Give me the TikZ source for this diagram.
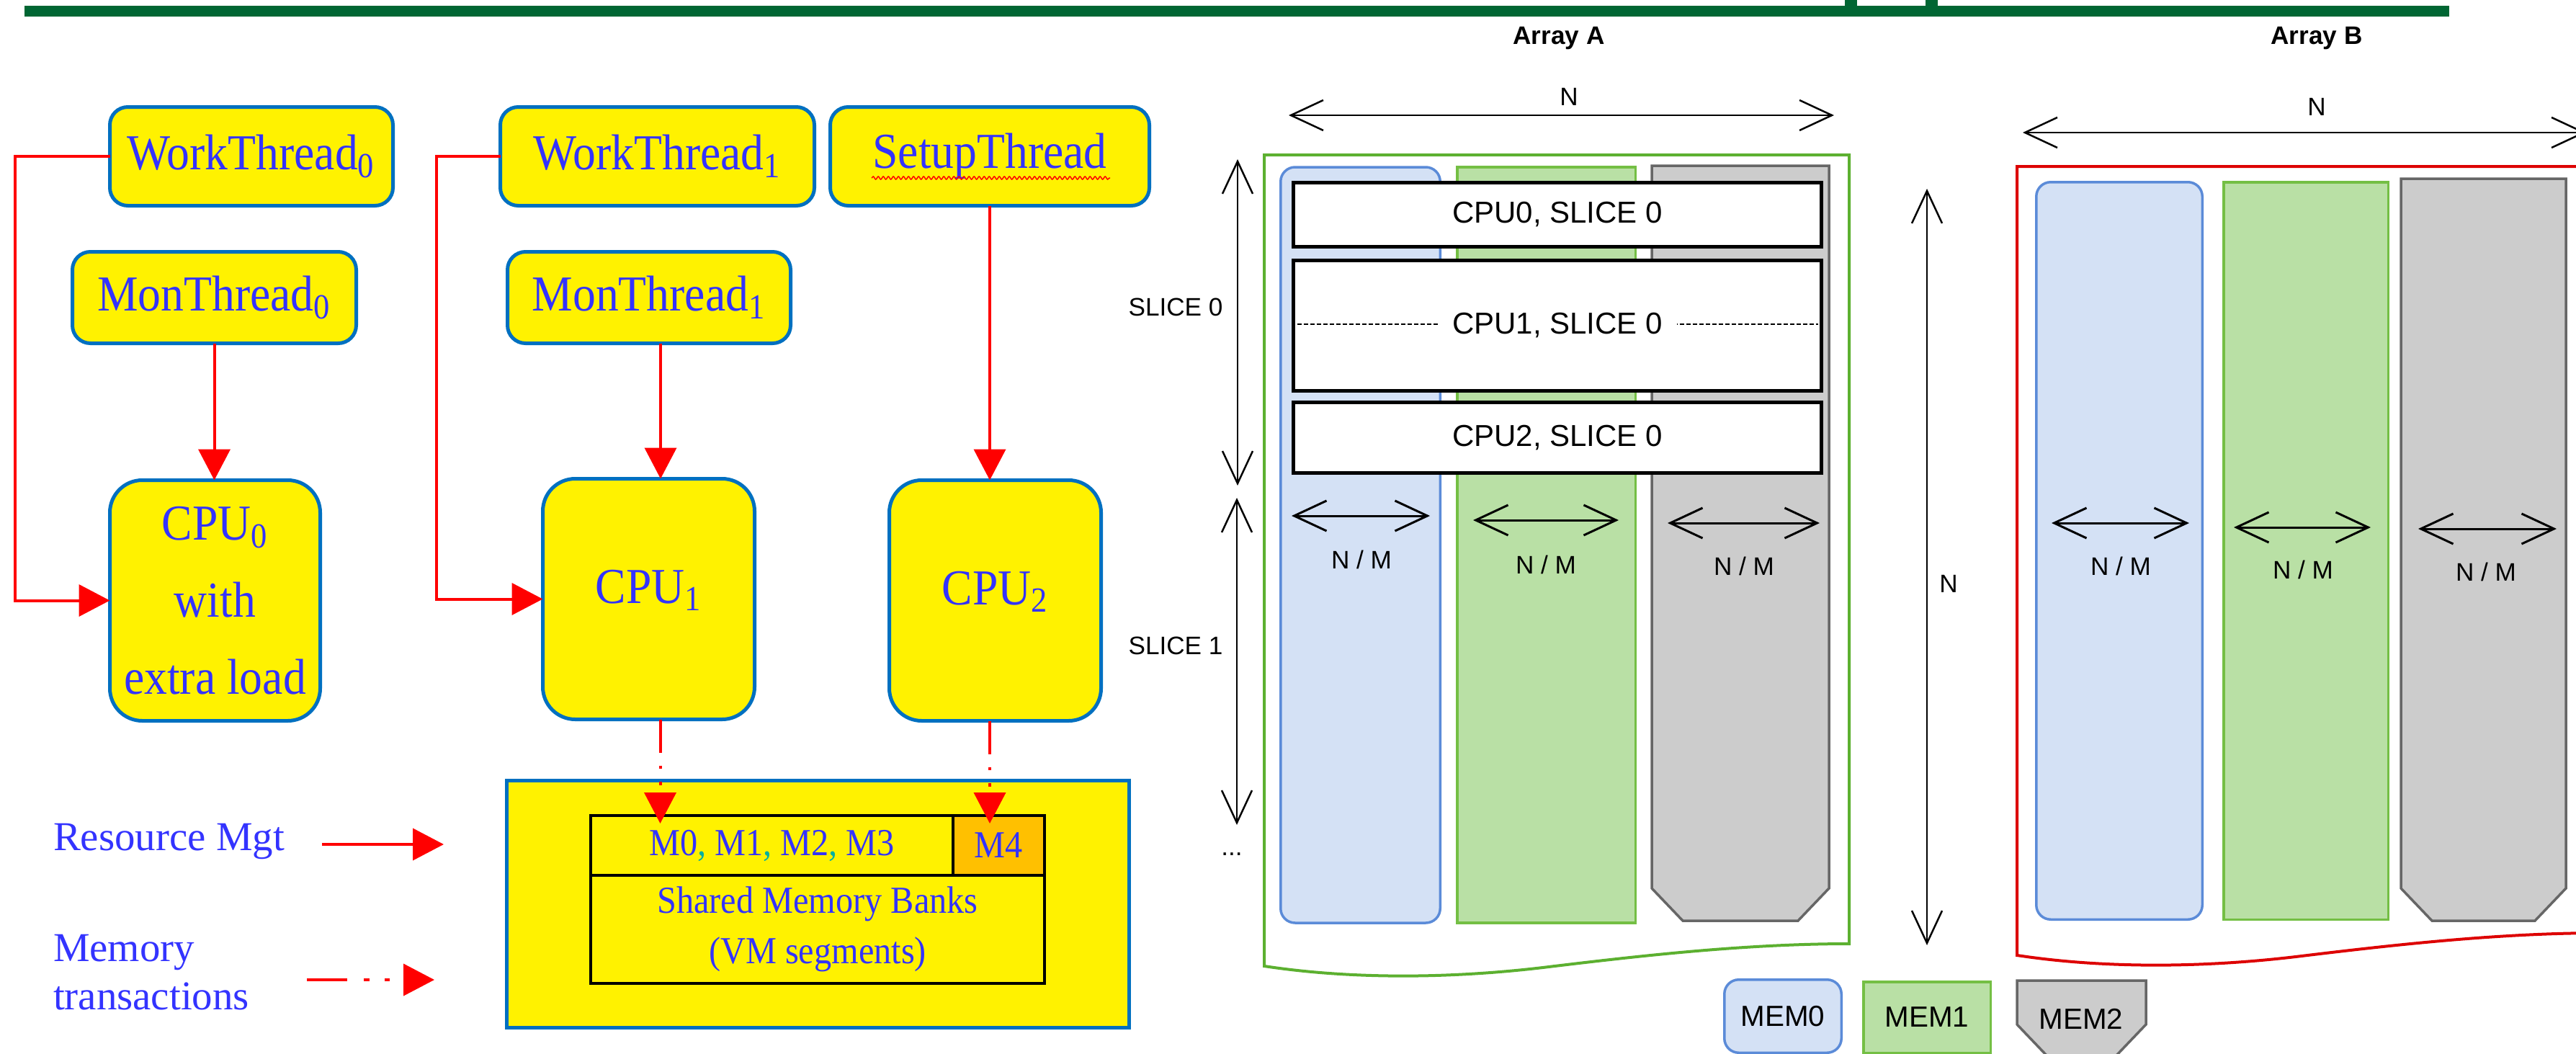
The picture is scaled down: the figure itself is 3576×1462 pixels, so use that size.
\documentclass[tikz,border=0pt]{standalone}
\usepackage{fontspec}
\usetikzlibrary{arrows.meta,decorations.pathmorphing}
\newfontfamily\tnr{Liberation Serif}
\newfontfamily\tnrn[FakeStretch=0.91]{Liberation Serif}
\newfontfamily\arial{Liberation Sans}
\definecolor{barGreen}{HTML}{006633}
\definecolor{bordBlue}{HTML}{0070C0}
\definecolor{txtBlue}{HTML}{3333FF}
\definecolor{commaCol}{HTML}{00B0A0}
\definecolor{mOrange}{HTML}{FFC000}
\definecolor{memBlueF}{HTML}{D4E1F5}
\definecolor{memBlueD}{HTML}{5B8BD8}
\definecolor{memGreenF}{HTML}{B9E0A5}
\definecolor{memGreenD}{HTML}{74BF44}
\definecolor{memGrayF}{HTML}{CCCCCC}
\definecolor{memGrayD}{HTML}{666666}
\definecolor{arrAGreen}{HTML}{5CB030}
\definecolor{arrBRed}{HTML}{DD0000}
\newcommand\chamfshape[4]{\draw[memgray] (#1,#2) -- (#3,#2) -- (#3,{#4-45}) -- ({#3-43},#4) -- ({#1+43},#4) -- (#1,{#4-45}) -- cycle;}
\begin{document}
\begin{tikzpicture}[x=0.1mm, y=-0.1mm,
  every node/.style={inner sep=0pt, outer sep=0pt},
  ybox/.style={draw=bordBlue, fill=yellow, line width=0.5mm, rounded corners=2.5mm, text=txtBlue, font=\tnrn\fontsize{19.9}{24}\selectfont},
  cpubox/.style={ybox, rounded corners=4.5mm, align=center, font=\tnrn\fontsize{19.9}{30.4}\selectfont},
  redline/.style={draw=red, line width=0.4mm},
  redarrow/.style={redline, -{Triangle[length=4.3mm,width=4.4mm]}},
  cputx/.style={redarrow, dash pattern=on 4.6mm off 1.8mm on 0.4mm off 1.8mm on 0.5mm off 5mm},
  legtx/.style={redarrow, dash pattern=on 5.6mm off 2.3mm on 0.8mm off 2.1mm on 0.7mm off 5mm},
  tcell/.style={draw=black, line width=0.4mm, fill=yellow, text=txtBlue, font=\tnrn\fontsize{15.1}{19.9}\selectfont, align=center},
  memblue/.style={draw=memBlueD, fill=memBlueF, line width=0.35mm, rounded corners=2mm},
  memgreen/.style={draw=memGreenD, fill=memGreenF, line width=0.35mm},
  memgray/.style={draw=memGrayD, fill=memGrayF, line width=0.35mm},
  slicebox/.style={draw=black, fill=white, line width=0.5mm, font=\arial\fontsize{11.95}{14}\selectfont},
  dimarrow/.style={draw=black, line width=0.25mm, {Straight Barb[length=4.5mm,width=4.2mm]}-{Straight Barb[length=4.5mm,width=4.2mm]}},
  lbl/.style={font=\arial\fontsize{10}{12}\selectfont},
  memlbl/.style={font=\arial\fontsize{11.5}{13}\selectfont},
  ttl/.style={font=\arial\bfseries\fontsize{10}{12}\selectfont}]
\useasboundingbox (0,0) rectangle (3576,1462);
\fill[white] (0,0) rectangle (3576,1462);
% top bar
\fill[barGreen] (34,8) rectangle (3400,23);
\fill[barGreen] (2561,0) rectangle (2578,8);
\fill[barGreen] (2673,0) rectangle (2690,8);

% ---------------- left: threads and CPUs
\node[ybox, minimum width=39.3mm, minimum height=13.7mm] (wt0) at (349,217) {WorkThread\textsubscript{0}};
\node[ybox, minimum width=43.6mm, minimum height=13.7mm] (wt1) at (912.5,217) {WorkThread\textsubscript{1}};
\node[ybox, minimum width=44.3mm, minimum height=13.7mm] (st) at (1374,217) {SetupThread};
\node[ybox, minimum width=39.4mm, minimum height=12.7mm] (mt0) at (297.5,413) {MonThread\textsubscript{0}};
\node[ybox, minimum width=39.3mm, minimum height=12.7mm] (mt1) at (901,413) {MonThread\textsubscript{1}};
\node[cpubox, minimum width=29.2mm, minimum height=33.4mm] (cpu0) at (298.5,833.5) {CPU\textsubscript{0}\\with\\extra load};
\node[cpubox, minimum width=29.4mm, minimum height=33.4mm, text height=4.6mm, text depth=3.5mm] (cpu1) at (900.5,831.5) {CPU\textsubscript{1}};
\node[cpubox, minimum width=29.4mm, minimum height=33.4mm, text height=4.6mm, text depth=3.5mm] (cpu2) at (1381.5,833.5) {CPU\textsubscript{2}};

\draw[red, line width=0.15mm, decorate, decoration={snake, amplitude=0.2mm, segment length=0.7mm}]
  ([xshift=-16.4mm,yshift=-3mm]st.center) -- ([xshift=16.7mm,yshift=-3mm]st.center);

\draw[redarrow] (wt0.west) -- ++(-132,0) |- (cpu0.west);
\draw[redarrow] (wt1.west) -- ++(-89,0) |- (cpu1.west);
\draw[redarrow] (mt0.south) -- (mt0.south |- cpu0.north);
\draw[redarrow] ([xshift=1.6mm]mt1.south) -- ([xshift=1.6mm]mt1.south |- cpu1.north);
\draw[redarrow] (st.south) -- (st.south |- cpu2.north);

% shared memory
\node[draw=bordBlue, fill=yellow, line width=0.5mm, minimum width=86.4mm, minimum height=34.3mm] (shm) at (1135.5,1255) {};
\node[tcell, minimum width=50.3mm, minimum height=8.3mm] (m03) at (1071.5,1173.5)
  {M0{\color{commaCol},} M1{\color{commaCol},} M2{\color{commaCol},} M3};
\node[tcell, fill=mOrange, minimum width=12.7mm, minimum height=8.3mm] (m4) at (1386.5,1173.5) {M4};
\node[tcell, minimum width=63mm, minimum height=15mm, font=\tnrn\fontsize{15.1}{19.9}\selectfont] (banks) at (1135,1290) {Shared Memory Banks\\(VM segments)};

\draw[cputx, shorten >=-1.1mm] ([xshift=1.6mm]cpu1.south) -- ([xshift=1.6mm]cpu1.south |- m03.north);
\draw[cputx, shorten >=-1.1mm] (st.south |- cpu2.south) -- (st.south |- m4.north);

% legend
\node[anchor=west, text=txtBlue, font=\tnr\fontsize{16.2}{19}\selectfont] (rm) at (74,1168) {Resource Mgt};
\coordinate (rmA) at (447,1172);
\coordinate (rmB) at (616,1172);
\draw[redarrow] (rmA) -- (rmB);
\node[anchor=west, text=txtBlue, align=left, font=\tnr\fontsize{16.2}{19.06}\selectfont] (mtr) at (74,1350) {Memory\\transactions};
\coordinate (mtA) at (426,1360);
\coordinate (mtB) at (603,1360);
\draw[legtx] (mtA) -- (mtB);

% ---------------- right: Array A
\node[ttl] (tA) at (2164,53) {Array A};
\coordinate (nA1) at (1789,160);
\coordinate (nA2) at (2546,160);
\draw[dimarrow] (nA1) -- (nA2);
\node[lbl] (nA) at (2178,134) {N};

\draw[draw=arrAGreen, line width=0.4mm] (1755,1341) -- (1755,215) -- (2567,215) -- (2567,1310)
  .. controls (2430,1310) and (2290,1325) .. (2150,1342)
  .. controls (2020,1358) and (1880,1360) .. (1755,1341) -- cycle;

\node[memblue, minimum width=22.15mm, minimum height=104.9mm] (a0) at (1888.5,756.5) {};
\node[memgreen, minimum width=24.75mm, minimum height=104.9mm] (a1) at (2146.5,756.5) {};
\chamfshape{2293}{230}{2539}{1278}

\node[slicebox, minimum width=73.3mm, minimum height=8.9mm] (s0) at (2162,298) {CPU0, SLICE 0};
\node[slicebox, minimum width=73.3mm, minimum height=18.1mm] (s1) at (2162,452) {};
\draw[black, line width=0.15mm, dash pattern=on 0.6mm off 0.3mm] ([xshift=0.5mm,yshift=0.2mm]s1.west) -- ([xshift=-0.5mm,yshift=0.2mm]s1.east);
\node[fill=white, inner xsep=2mm, inner ysep=0.6mm, font=\arial\fontsize{11.95}{14}\selectfont] (s1t) at (s1.center) {CPU1, SLICE 0};
\node[slicebox, minimum width=73.3mm, minimum height=9.8mm] (s2) at (2162,607.5) {CPU2, SLICE 0};

\coordinate (sv0a) at (1718,221);
\coordinate (sv0b) at (1718,674);
\draw[dimarrow] (sv0a) -- (sv0b);
\coordinate (sv1a) at (1717,691);
\coordinate (sv1b) at (1717,1145);
\draw[dimarrow] (sv1a) -- (sv1b);
\node[lbl] (sl0) at (1632,426) {SLICE 0};
\node[lbl] (sl1) at (1632,896) {SLICE 1};
\node[lbl] (dots) at (1710,1186) {...};

\coordinate (da1) at (1793,716); \coordinate (da2) at (1985,716);
\draw[dimarrow, line width=0.3mm] (da1) -- (da2);
\node[lbl] at (1890,777) {N / M};
\coordinate (db1) at (2045,722); \coordinate (db2) at (2247,722);
\draw[dimarrow, line width=0.3mm] (db1) -- (db2);
\node[lbl] at (2146,784) {N / M};
\coordinate (dc1) at (2315,726); \coordinate (dc2) at (2526,726);
\draw[dimarrow, line width=0.3mm] (dc1) -- (dc2);
\node[lbl] at (2421,786) {N / M};

% vertical N
\coordinate (nv1) at (2675,262);
\coordinate (nv2) at (2675,1312);
\draw[dimarrow] (nv1) -- (nv2);
\node[lbl] (nV) at (2705,810) {N};

% ---------------- right: Array B
\node[ttl] (tB) at (3216,53) {Array B};
\coordinate (nB1) at (2808,184);
\coordinate (nB2) at (3590,184);
\draw[dimarrow] (nB1) -- (nB2);
\node[lbl] (nB) at (3216,148) {N};

\draw[draw=arrBRed, line width=0.4mm] (2800,1326) -- (2800,231) -- (3612,231) -- (3612,1295)
  .. controls (3475,1295) and (3335,1310) .. (3195,1327)
  .. controls (3065,1343) and (2925,1345) .. (2800,1326) -- cycle;

\node[memblue, minimum width=23.05mm, minimum height=102.35mm] (b0) at (2942,764.5) {};
\node[memgreen, minimum width=22.85mm, minimum height=102.35mm] (b1) at (3201,764.5) {};
\chamfshape{3333}{248}{3562}{1278}

\coordinate (ea1) at (2848,726); \coordinate (ea2) at (3039,726);
\draw[dimarrow, line width=0.3mm] (ea1) -- (ea2);
\node[lbl] at (2944,786) {N / M};
\coordinate (eb1) at (3101,732); \coordinate (eb2) at (3291,732);
\draw[dimarrow, line width=0.3mm] (eb1) -- (eb2);
\node[lbl] at (3197,791) {N / M};
\coordinate (ec1) at (3357,734); \coordinate (ec2) at (3549,734);
\draw[dimarrow, line width=0.3mm] (ec1) -- (ec2);
\node[lbl] at (3451,794) {N / M};

% ---------------- memory legend
\node[memblue, minimum width=16.25mm, minimum height=10.15mm, memlbl] (L0) at (2475,1410.5) {MEM0};
\node[memgreen, minimum width=17.65mm, minimum height=9.85mm, memlbl] (L1) at (2675,1412) {MEM1};
\chamfshape{2800}{1361}{2979}{1467}
\node[memlbl] (L2) at (2889,1414) {MEM2};
\end{tikzpicture}
\end{document}
